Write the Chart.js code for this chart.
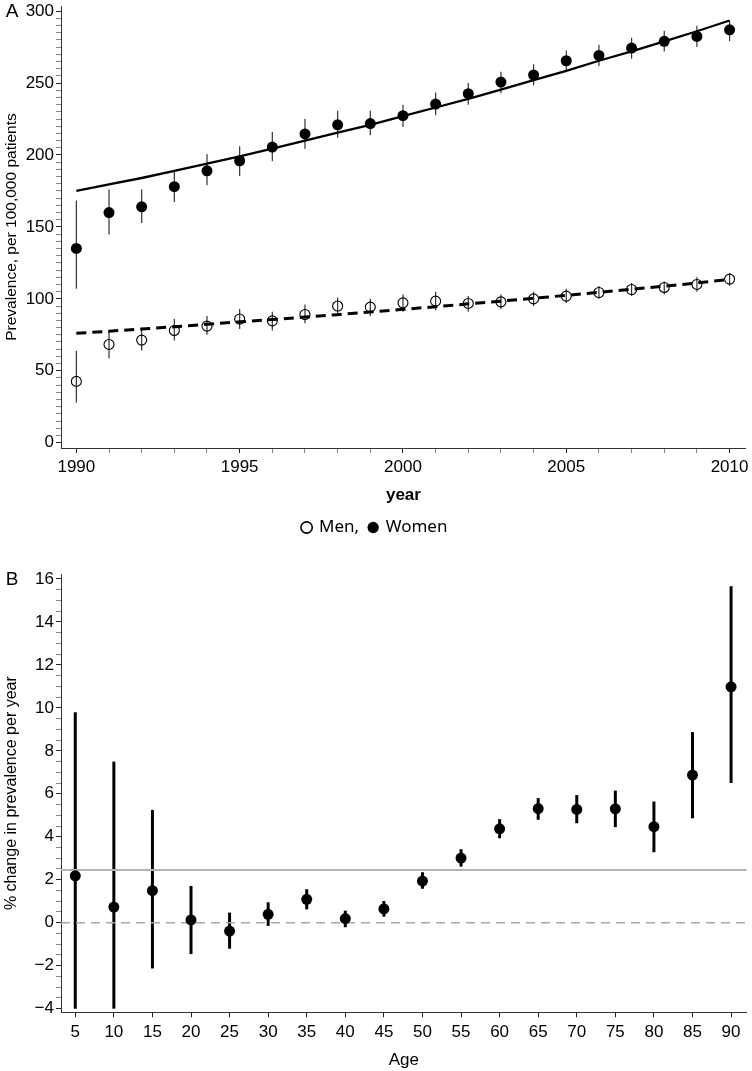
<!DOCTYPE html>
<html>
<head>
<meta charset="utf-8">
<script src="https://cdn.jsdelivr.net/npm/chart.js@4/dist/chart.umd.min.js"></script>
<style>
  body { margin: 0; background: #fff; }
  canvas { display: block; }
</style>
</head>
<body>
<canvas id="chartA" width="752" height="546"></canvas>
<canvas id="chartB" width="752" height="525"></canvas>
<script>
// panel A: prevalence per 100,000 patients by year
const years = [1990, 1991, 1992, 1993, 1994, 1995, 1996, 1997, 1998, 1999, 2000,
               2001, 2002, 2003, 2004, 2005, 2006, 2007, 2008, 2009, 2010];

const womenRate  = [135, 160, 164, 178, 189, 196, 205.5, 214.6, 221, 221.8, 227.3,
                    235.4, 242.6, 250.7, 255.6, 265.5, 269.2, 274.3, 279, 282.4, 287];
const womenLow   = [107, 144.7, 152.8, 167.4, 179, 185.4, 195.6, 204.4, 212, 213.7, 219.4,
                    227.6, 235, 243, 248.4, 258.3, 261.8, 267, 272, 275, 279.2];
const womenHigh  = [168.4, 176, 176, 188.9, 200.5, 206, 216, 225, 230.8, 230.8, 235,
                    243.5, 250, 257.9, 263, 272.7, 276.7, 281.5, 286.3, 289.8, 293.5];
const womenTrend = [175, 179.5, 184, 189, 194, 199, 204.5, 210, 215.5, 221, 227,
                    233, 239, 245.5, 252, 258.5, 265.5, 272, 279, 286, 293.5];

const menRate  = [42.6, 68.3, 71.3, 78, 81, 86, 84.7, 89.1, 95, 94.2, 97.2,
                  98.4, 96.8, 97.9, 100, 101.9, 104.4, 106.5, 107.9, 110, 113.7];
const menLow   = [27.8, 58.6, 64, 71, 75, 79, 78, 83, 88, 88, 91,
                  92, 91, 93, 95, 97, 100, 102, 103, 105, 109];
const menHigh  = [63.9, 77.8, 80, 86, 88, 93, 91, 96, 101, 100, 103,
                  105, 102, 103, 105, 107, 109, 111, 112, 115, 118];
const menTrend = [76, 77.5, 79, 80.6, 82.3, 84, 85.6, 87.3, 89, 90.8, 92.7,
                  94.5, 96.5, 98.4, 100.4, 102.4, 104.5, 106.6, 108.8, 111, 113.5];

// panel B: % change in prevalence per year by age
const ages      = [5, 10, 15, 20, 25, 30, 35, 40, 45, 50, 55, 60, 65, 70, 75, 80, 85, 90];
const pctChange = [2.18, 0.73, 1.49, 0.13, -0.39, 0.39, 1.09, 0.19, 0.64, 1.94,
                   3.01, 4.37, 5.31, 5.27, 5.3, 4.47, 6.87, 10.98];
const pctLow    = [-4, -4, -2.13, -1.46, -1.21, -0.15, 0.62, -0.21, 0.28, 1.58,
                   2.61, 3.93, 4.79, 4.63, 4.45, 3.28, 4.86, 6.5];
const pctHigh   = [9.8, 7.5, 5.25, 1.71, 0.47, 0.95, 1.56, 0.56, 1.01, 2.35,
                   3.42, 4.82, 5.8, 5.94, 6.15, 5.64, 8.87, 15.66];
const overallChange = [2.45];
const noChange = [0];

const TICK_FONT = "'Liberation Sans Narrow', 'Liberation Sans', Arial, sans-serif";
Chart.defaults.font.family = TICK_FONT;
Chart.defaults.color = '#000';

const toPoints = (xs, ys) => xs.map((x, i) => ({ x: x, y: ys[i] }));

// vertical confidence bars, drawn under the markers
const errorBars = {
    id: 'errorBars',
    beforeDatasetsDraw(chart) {
        const { ctx, scales: { x, y } } = chart;
        chart.data.datasets.forEach((ds) => {
            if (!ds.errLow) return;
            ctx.save();
            ctx.strokeStyle = ds.errColor;
            ctx.lineWidth = ds.errWidth;
            ds.data.forEach((pt, j) => {
                const px = x.getPixelForValue(pt.x);
                ctx.beginPath();
                ctx.moveTo(px, y.getPixelForValue(ds.errLow[j]));
                ctx.lineTo(px, y.getPixelForValue(ds.errHigh[j]));
                ctx.stroke();
            });
            ctx.restore();
        });
    }
};

const refLines = {
    id: 'refLines',
    beforeDatasetsDraw(chart, args, opts) {
        if (!opts.lines) return;
        const { ctx, chartArea, scales: { y } } = chart;
        opts.lines.forEach((ln) => {
            const py = y.getPixelForValue(ln.value);
            ctx.save();
            ctx.strokeStyle = ln.color;
            ctx.lineWidth = ln.width;
            ctx.setLineDash(ln.dash || []);
            ctx.beginPath();
            ctx.moveTo(chartArea.left, py);
            ctx.lineTo(chartArea.right, py);
            ctx.stroke();
            ctx.restore();
        });
    }
};

const panelLetter = {
    id: 'panelLetter',
    afterDraw(chart, args, opts) {
        if (!opts.text) return;
        const { ctx, chartArea } = chart;
        ctx.save();
        ctx.font = "19px 'Liberation Sans', Arial, sans-serif";
        ctx.fillStyle = '#000';
        ctx.textAlign = 'center';
        ctx.textBaseline = 'middle';
        ctx.fillText(opts.text, 12, chartArea.top + 6);
        ctx.restore();
    }
};

const axisGrid = (isMajor) => ({
    drawOnChartArea: false,
    drawTicks: true,
    tickLength: 5,
    tickColor: (c) => (c.tick && isMajor(c.tick.value) ? '#222' : '#888')
});
const axisBorder = { display: true, color: '#333', width: 1 };

// keep the plot area where the layout padding puts it
const fixWidth = (w) => (scale) => {
    scale.width = w;
    scale.paddingTop = 0;
    scale.paddingBottom = 0;
};
const fixHeight = (h) => (scale) => {
    scale.height = h;
    scale.paddingLeft = 0;
    scale.paddingRight = 0;
};

new Chart(document.getElementById('chartA'), {
    type: 'scatter',
    data: {
        datasets: [
            {
                label: 'Women',
                data: toPoints(years, womenRate),
                errLow: womenLow, errHigh: womenHigh, errColor: '#333', errWidth: 1.2,
                pointRadius: 5.5, pointBackgroundColor: '#000', pointBorderWidth: 0
            },
            {
                label: 'Men',
                data: toPoints(years, menRate),
                errLow: menLow, errHigh: menHigh, errColor: '#333', errWidth: 1.2,
                pointRadius: 5, pointBackgroundColor: 'rgba(0,0,0,0)',
                pointBorderColor: '#000', pointBorderWidth: 1.1
            },
            {
                label: 'Women trend',
                data: toPoints(years, womenTrend),
                showLine: true, pointRadius: 0, borderColor: '#000', borderWidth: 2.3
            },
            {
                label: 'Men trend',
                data: toPoints(years, menTrend),
                showLine: true, pointRadius: 0, borderColor: '#000', borderWidth: 3,
                borderDash: [10, 6]
            }
        ]
    },
    options: {
        responsive: false,
        animation: false,
        events: [],
        layout: { padding: { top: 5, right: 2, left: 0, bottom: 0 } },
        scales: {
            x: {
                type: 'linear',
                min: 1989.53, max: 2010.5,
                afterFit: fixHeight(61),
                border: axisBorder,
                grid: axisGrid((v) => v % 5 === 0),
                ticks: {
                    stepSize: 1, includeBounds: false, autoSkip: false, maxRotation: 0,
                    padding: 4, font: { size: 17 },
                    callback: (v) => (v % 5 === 0 ? String(v) : '')
                },
                title: {
                    display: true, text: 'year',
                    font: { size: 17, weight: 'bold' },
                    padding: { top: 4, bottom: 3 }
                }
            },
            y: {
                min: -3.7, max: 303.5,
                afterFit: fixWidth(61),
                border: axisBorder,
                grid: axisGrid((v) => v % 50 === 0),
                ticks: {
                    stepSize: 5, includeBounds: false, autoSkip: false,
                    padding: 2, font: { size: 17 },
                    callback: (v) => (v % 50 === 0 ? String(v) : '')
                },
                title: {
                    display: true, text: 'Prevalence, per 100,000 patients',
                    font: { size: 15.5, family: "'Liberation Sans', Arial, sans-serif" },
                    padding: { top: 2, bottom: 0 }
                }
            }
        },
        plugins: {
            tooltip: { enabled: false },
            panelLetter: { text: 'A' },
            legend: {
                position: 'bottom',
                labels: {
                    usePointStyle: true,
                    boxWidth: 8, boxHeight: 8,
                    padding: 10,
                    font: { size: 17, family: "'Noto Sans', 'Open Sans', sans-serif" },
                    generateLabels: () => [
                        { text: 'Men,', pointStyle: 'circle', fillStyle: '#fff',
                          strokeStyle: '#000', lineWidth: 1.6, hidden: false },
                        { text: 'Women', pointStyle: 'circle', fillStyle: '#000',
                          strokeStyle: '#000', lineWidth: 0, hidden: false }
                    ]
                }
            }
        }
    },
    plugins: [errorBars, panelLetter]
});

new Chart(document.getElementById('chartB'), {
    type: 'scatter',
    data: {
        datasets: [
            {
                label: '% change',
                data: toPoints(ages, pctChange),
                errLow: pctLow, errHigh: pctHigh, errColor: '#000', errWidth: 3,
                pointRadius: 5.5, pointBackgroundColor: '#000', pointBorderWidth: 0
            }
        ]
    },
    options: {
        responsive: false,
        animation: false,
        events: [],
        layout: { padding: { top: 28, right: 2, left: 0, bottom: 0 } },
        scales: {
            x: {
                type: 'linear',
                min: 3.15, max: 92,
                afterFit: fixHeight(58.7),
                border: axisBorder,
                grid: axisGrid(() => true),
                ticks: {
                    stepSize: 5, includeBounds: false, autoSkip: false, maxRotation: 0,
                    padding: 5, font: { size: 17 }
                },
                title: {
                    display: true, text: 'Age',
                    font: { size: 17 },
                    padding: { top: 2, bottom: 0 }
                }
            },
            y: {
                min: -4.17, max: 16.23,
                afterFit: fixWidth(61),
                border: axisBorder,
                grid: axisGrid((v) => Math.abs(v % 2) < 1e-6),
                ticks: {
                    stepSize: 0.5, includeBounds: false, autoSkip: false,
                    padding: 2, font: { size: 17 },
                    callback: (v) => (Math.abs(v % 2) < 1e-6 ? String(v).replace('-', '\u2212') : '')
                },
                title: {
                    display: true, text: '% change in prevalence per year',
                    font: { size: 16, family: "'Liberation Sans', Arial, sans-serif" },
                    padding: { top: 2, bottom: 0 }
                }
            }
        },
        plugins: {
            tooltip: { enabled: false },
            legend: { display: false },
            panelLetter: { text: 'B' },
            refLines: {
                lines: [
                    { value: overallChange[0], color: '#b3b3b3', width: 2 },
                    { value: noChange[0], color: '#a8a8a8', width: 1.5, dash: [9, 6] }
                ]
            }
        }
    },
    plugins: [errorBars, refLines, panelLetter]
});
</script>
</body>
</html>
